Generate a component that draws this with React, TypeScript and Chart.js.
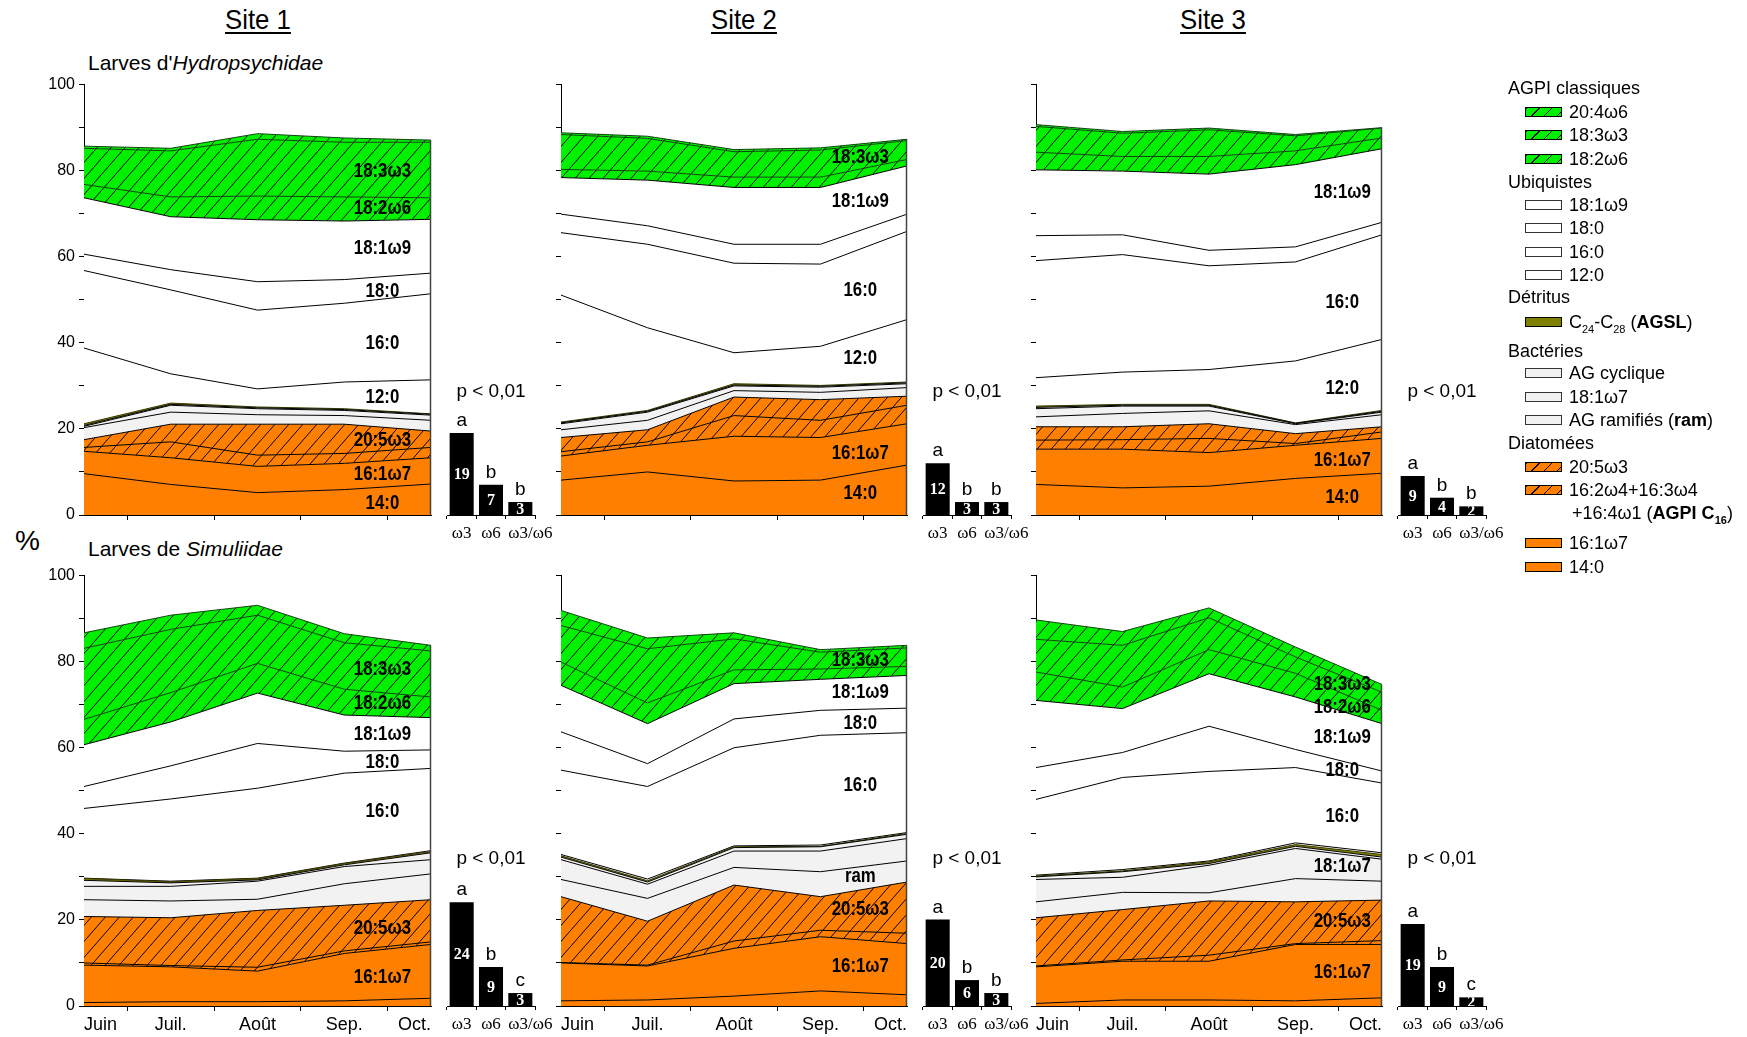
import React, { useEffect, useRef } from 'react';
import { Chart, registerables } from 'chart.js';

Chart.register(...registerables);

// ---------- categories ----------
const months = ['Juin', 'Juil.', 'Août', 'Sep.', 'Oct.'];
const barLabels = ['ω3', 'ω6', 'ω3/ω6'];

// stacking order, bottom -> top
const seriesNames = [
  '14:0', '16:1ω7', 'AGPI C16', '20:5ω3', 'AG ramifiés', '18:1ω7', 'AG cyclique',
  'C24-C28 (AGSL)', '12:0', '16:0', '18:0', '18:1ω9', '18:2ω6', '18:3ω3', '20:4ω6',
];

// ---------- values (%), one row per series in stacking order, columns = months ----------
const hydroSite1 = [
  [9.6, 7.1, 5.2, 5.9, 7.2],
  [5.2, 6.2, 6.1, 6.1, 6.1],
  [0.9, 3.7, 2.6, 2.3, 2.4],
  [1.8, 4.1, 7.2, 6.8, 3.8],
  [2.8, 2.8, 2.2, 2.0, 2.5],
  [0.3, 1.6, 1.4, 1.2, 1.2],
  [0.2, 0.2, 0.2, 0.2, 0.2],
  [0.4, 0.3, 0.2, 0.2, 0.1],
  [17.6, 6.8, 4.2, 6.2, 7.9],
  [18.0, 19.5, 18.3, 18.3, 20.0],
  [3.8, 4.7, 6.6, 5.5, 4.8],
  [13.1, 12.3, 14.4, 13.6, 12.5],
  [3.1, 4.6, 5.5, 5.6, 5.0],
  [8.4, 10.7, 13.2, 12.7, 12.9],
  [0.5, 0.6, 1.3, 1.0, 0.5],
];
const hydroSite2 = [
  [8.1, 10.0, 7.9, 8.1, 11.6],
  [5.6, 6.2, 10.4, 9.9, 9.6],
  [1.0, 0.8, 4.8, 4.0, 4.3],
  [3.3, 2.8, 4.3, 4.8, 2.1],
  [1.8, 2.2, 1.5, 1.7, 2.0],
  [1.4, 1.9, 1.1, 1.2, 0.9],
  [0.2, 0.2, 0.2, 0.2, 0.2],
  [0.2, 0.2, 0.3, 0.2, 0.2],
  [29.5, 19.2, 7.2, 9.1, 14.5],
  [14.5, 19.4, 20.8, 19.1, 20.5],
  [4.3, 4.3, 4.4, 4.6, 4.0],
  [8.5, 10.6, 13.2, 13.2, 11.2],
  [1.9, 2.1, 2.4, 2.4, 1.5],
  [8.1, 7.6, 5.9, 6.3, 4.4],
  [0.4, 0.5, 0.5, 0.5, 0.3],
];
const hydroSite3 = [
  [7.1, 6.3, 6.7, 8.5, 9.7],
  [8.2, 9.0, 7.8, 7.7, 8.1],
  [2.1, 2.2, 3.3, 0.4, 1.5],
  [3.1, 3.0, 3.4, 2.3, 1.2],
  [2.3, 3.1, 3.0, 2.1, 2.8],
  [1.9, 1.7, 1.1, 0.2, 0.6],
  [0.3, 0.2, 0.2, 0.1, 0.2],
  [0.3, 0.2, 0.2, 0.1, 0.2],
  [6.6, 7.5, 8.1, 14.4, 16.5],
  [27.2, 27.3, 24.1, 23.0, 24.3],
  [5.8, 4.6, 3.6, 3.5, 2.9],
  [15.3, 14.8, 17.7, 19.1, 17.1],
  [4.1, 3.4, 4.1, 3.2, 2.5],
  [6.0, 5.4, 6.2, 3.5, 2.3],
  [0.4, 0.4, 0.4, 0.3, 0.1],
];
const simSite1 = [
  [0.8, 1.0, 1.0, 1.2, 1.8],
  [8.7, 8.1, 7.1, 11.0, 12.5],
  [0.5, 0.3, 0.9, 0.6, 0.6],
  [10.8, 11.1, 13.2, 10.6, 9.8],
  [3.9, 3.9, 2.6, 5.0, 6.0],
  [3.1, 3.4, 4.2, 4.0, 3.3],
  [1.4, 0.8, 0.3, 0.4, 1.6],
  [0.4, 0.3, 0.3, 0.3, 0.3],
  [0.1, 0.1, 0.1, 0.1, 0.2],
  [16.2, 19.1, 20.9, 20.9, 19.1],
  [5.1, 7.7, 10.4, 5.1, 4.3],
  [9.7, 10.2, 11.7, 8.4, 7.5],
  [5.9, 6.8, 6.9, 6.0, 4.8],
  [16.5, 14.7, 11.2, 10.8, 10.7],
  [3.6, 3.3, 2.3, 2.1, 1.3],
];
const simSite2 = [
  [1.2, 1.4, 2.3, 3.5, 2.6],
  [8.8, 7.9, 11.1, 12.6, 11.9],
  [0.1, 0.2, 1.7, 1.5, 2.4],
  [15.3, 10.2, 13.0, 7.8, 11.9],
  [4.0, 5.3, 4.1, 5.8, 4.9],
  [4.6, 3.3, 3.8, 4.8, 5.2],
  [0.6, 0.5, 0.8, 1.0, 1.0],
  [0.3, 0.3, 0.2, 0.1, 0.2],
  [0.3, 0.4, 0.2, 0.3, 0.2],
  [19.6, 21.5, 22.8, 25.5, 23.2],
  [8.9, 5.3, 6.7, 5.8, 5.7],
  [10.8, 9.3, 8.2, 7.2, 7.6],
  [5.4, 4.8, 3.2, 2.4, 2.1],
  [8.5, 12.6, 7.2, 3.9, 4.3],
  [3.5, 2.5, 1.4, 0.6, 0.6],
];
const simSite3 = [
  [0.6, 1.4, 1.4, 1.2, 1.9],
  [8.5, 9.0, 9.0, 13.1, 12.4],
  [0.2, 0.3, 1.4, 0.2, 0.9],
  [11.2, 11.7, 12.6, 9.7, 9.4],
  [3.7, 4.0, 1.9, 5.4, 4.4],
  [5.2, 3.5, 6.4, 7.0, 5.1],
  [0.6, 1.3, 0.4, 0.5, 0.5],
  [0.2, 0.2, 0.4, 0.4, 0.6],
  [0.2, 0.3, 0.2, 0.4, 0.4],
  [17.6, 21.4, 20.8, 17.5, 16.2],
  [7.4, 5.8, 10.5, 4.2, 2.8],
  [15.6, 10.2, 12.2, 12.2, 11.0],
  [6.6, 5.0, 5.6, 5.5, 3.1],
  [7.6, 9.7, 7.4, 3.8, 4.2],
  [4.5, 3.2, 2.3, 2.3, 1.8],
];

// in-chart band labels: [text, value level]
const hydroSite1Labels: [string, number][] = [['18:3ω3', 79.9], ['18:2ω6', 71.3], ['18:1ω9', 62.0], ['18:0', 52.1], ['16:0', 39.8], ['12:0', 27.3], ['20:5ω3', 17.4], ['16:1ω7', 9.5], ['14:0', 2.8]];
const hydroSite2Labels: [string, number][] = [['18:3ω3', 83.1], ['18:1ω9', 72.8], ['16:0', 52.3], ['12:0', 36.4], ['16:1ω7', 14.3], ['14:0', 5.1]];
const hydroSite3Labels: [string, number][] = [['18:1ω9', 75.0], ['16:0', 49.5], ['12:0', 29.4], ['16:1ω7', 12.7], ['14:0', 4.2]];
const simSite1Labels: [string, number][] = [['18:3ω3', 78.2], ['18:2ω6', 70.4], ['18:1ω9', 63.1], ['18:0', 56.7], ['16:0', 45.2], ['20:5ω3', 18.1], ['16:1ω7', 6.8]];
const simSite2Labels: [string, number][] = [['18:3ω3', 80.3], ['18:1ω9', 72.8], ['18:0', 65.8], ['16:0', 51.2], ['ram', 30.1], ['20:5ω3', 22.6], ['16:1ω7', 9.3]];
const simSite3Labels: [string, number][] = [['18:3ω3', 74.7], ['18:2ω6', 69.5], ['18:1ω9', 62.5], ['18:0', 54.8], ['16:0', 44.0], ['18:1ω7', 32.5], ['20:5ω3', 19.7], ['16:1ω7', 7.9]];

// ω3 / ω6 / ω3-ω6 bars
const hydroSite1Bars = [19, 7, 3];
const hydroSite2Bars = [12, 3, 3];
const hydroSite3Bars = [9, 4, 2];
const simSite1Bars = [24, 9, 3];
const simSite2Bars = [20, 6, 3];
const simSite3Bars = [19, 9, 2];
const hydroSite1Letters = ['a', 'b', 'b'];
const hydroSite2Letters = ['a', 'b', 'b'];
const hydroSite3Letters = ['a', 'b', 'b'];
const simSite1Letters = ['a', 'b', 'c'];
const simSite2Letters = ['a', 'b', 'b'];
const simSite3Letters = ['a', 'b', 'c'];
const pText = 'p < 0,01';

// ---------- styles ----------
const ORANGE = '#ff8000';
const GREEN = '#00f000';
const BACT = '#f2f2f2';
const OLIVE = '#808000';
const seriesKinds = ['orange', 'orange', 'orangeHatch', 'orangeHatch', 'bact', 'bact', 'bact', 'olive', 'white', 'white', 'white', 'white', 'greenHatch', 'greenHatch', 'greenHatch'];

const SANS = '"Liberation Sans", Arial, sans-serif';
const SERIF = '"Liberation Serif", "Times New Roman", serif';

const colLeft = [84, 561, 1036];
const colWidth = [347, 346, 346];
const rowTop = [83, 574];
const PLOT_H = 432;
const labelXIndex = [3.44, 3.46, 3.54];

function makeHatch(color: string): CanvasPattern | string {
  const c = document.createElement('canvas');
  c.width = 14;
  c.height = 16;
  const g = c.getContext('2d');
  if (!g) return color;
  g.fillStyle = color;
  g.fillRect(0, 0, 14, 16);
  g.strokeStyle = '#000';
  g.lineWidth = 1;
  g.beginPath();
  g.moveTo(-14, 32);
  g.lineTo(28, -16);
  g.stroke();
  return g.createPattern(c, 'repeat') || color;
}

type AreaProps = {
  data: number[][];
  labels: [string, number][];
  col: number;
  row: number;
};

function AreaPanel({ data, labels, col, row }: AreaProps) {
  const ref = useRef<HTMLCanvasElement>(null);
  const left = colLeft[col];
  const width = colWidth[col];
  const top = rowTop[row];
  const cw = width + 60 + 12;
  const ch = PLOT_H + 12 + 40;
  const showY = col === 0;
  const showX = row === 1;

  useEffect(() => {
    if (!ref.current) return;
    const orangeHatch = makeHatch(ORANGE);
    const greenHatch = makeHatch(GREEN);
    const fillFor = (k: string): any => {
      switch (k) {
        case 'orange': return ORANGE;
        case 'orangeHatch': return orangeHatch;
        case 'greenHatch': return greenHatch;
        case 'bact': return BACT;
        case 'olive': return OLIVE;
        default: return '#ffffff';
      }
    };
    const borderFor = (k: string) => (k === 'greenHatch' ? '#114411' : k === 'olive' ? '#3a3a00' : '#000000');

    const decoPlugin = {
      id: 'areaDeco',
      afterDatasetsDraw(chart: any) {
        const { ctx, chartArea, scales } = chart;
        const last = data.reduce((s, arr) => s + arr[arr.length - 1], 0);
        ctx.save();
        ctx.strokeStyle = '#444';
        ctx.lineWidth = 1.5;
        ctx.beginPath();
        ctx.moveTo(chartArea.right - 0.5, scales.y.getPixelForValue(last));
        ctx.lineTo(chartArea.right - 0.5, chartArea.bottom);
        ctx.stroke();
        ctx.fillStyle = '#000';
        ctx.font = `bold 21px ${SANS}`;
        ctx.textAlign = 'center';
        ctx.textBaseline = 'middle';
        const xp = scales.x.getPixelForValue(labelXIndex[col]);
        for (const [t, v] of labels) {
          ctx.save();
          ctx.translate(xp, scales.y.getPixelForValue(v));
          ctx.scale(0.8, 1);
          ctx.fillText(t, 0, 0);
          ctx.restore();
        }
        ctx.restore();
      },
    };

    const chart = new Chart(ref.current, {
      type: 'line',
      data: {
        labels: months,
        datasets: data.map((vals, i) => ({
          label: seriesNames[i],
          data: vals,
          fill: i === 0 ? 'origin' : '-1',
          backgroundColor: fillFor(seriesKinds[i]),
          borderColor: borderFor(seriesKinds[i]),
          borderWidth: 1,
          pointRadius: 0,
          tension: 0,
        })),
      },
      options: {
        responsive: false,
        maintainAspectRatio: false,
        animation: false,
        devicePixelRatio: 1,
        events: [],
        layout: { padding: { top: 12, right: 12, left: 0, bottom: 0 } },
        plugins: { legend: { display: false }, tooltip: { enabled: false } },
        scales: {
          x: {
            type: 'category',
            offset: false,
            z: 1,
            ticks: {
              display: showX,
              align: 'inner',
              padding: 3,
              color: '#000',
              font: { family: SANS, size: 18 },
              maxRotation: 0,
              autoSkip: false,
            },
            grid: { offset: true, drawOnChartArea: false, tickLength: 5, color: '#000' },
            border: { color: '#000', width: 1 },
            afterFit: (s: any) => { s.height = 40; },
          },
          y: {
            stacked: true,
            min: 0,
            max: 100,
            z: 1,
            ticks: {
              stepSize: 10,
              autoSkip: false,
              padding: 4,
              color: '#000',
              font: { family: SANS, size: 16 },
              callback: (v: any) => (showY && Number(v) % 20 === 0 ? String(v) : ''),
            },
            grid: { drawOnChartArea: false, tickLength: 5, color: '#000' },
            border: { color: '#000', width: 1 },
            afterFit: (s: any) => { s.width = 60; },
          },
        },
      },
      plugins: [decoPlugin],
    } as any);
    return () => chart.destroy();
  }, []);

  return (
    <canvas
      ref={ref}
      width={cw}
      height={ch}
      style={{ position: 'absolute', left: left - 60, top: top - 12, width: cw, height: ch }}
    />
  );
}

type BarProps = { values: number[]; letters: string[]; col: number; row: number; pLevel: number };

function BarPanel({ values, letters, col, row, pLevel }: BarProps) {
  const ref = useRef<HTMLCanvasElement>(null);
  const right = colLeft[col] + colWidth[col];
  const top = rowTop[row];
  const cw = 140;
  const ch = PLOT_H + 12 + 40;

  useEffect(() => {
    if (!ref.current) return;
    const deco = {
      id: 'barDeco',
      afterDatasetsDraw(chart: any) {
        const { ctx, chartArea, scales } = chart;
        const meta = chart.getDatasetMeta(0);
        ctx.save();
        meta.data.forEach((bar: any, i: number) => {
          const p = bar.getProps(['x', 'y', 'base', 'width'], true);
          ctx.save();
          ctx.beginPath();
          ctx.rect(p.x - p.width / 2, p.y, p.width, p.base - p.y);
          ctx.clip();
          ctx.fillStyle = '#fff';
          ctx.font = `bold 16px ${SERIF}`;
          ctx.textAlign = 'center';
          ctx.textBaseline = 'middle';
          ctx.fillText(String(values[i]), p.x, (p.y + p.base) / 2 + 1);
          ctx.restore();
          ctx.fillStyle = '#000';
          ctx.font = `19px ${SANS}`;
          ctx.textAlign = 'center';
          ctx.textBaseline = 'alphabetic';
          ctx.fillText(letters[i], p.x, p.y - 7);
          ctx.font = `17px ${SERIF}`;
          ctx.textBaseline = 'top';
          if (i === barLabels.length - 1) {
            ctx.textAlign = 'left';
            ctx.fillText(barLabels[i], p.x - p.width / 2, chartArea.bottom + 10);
          } else {
            ctx.textAlign = 'center';
            ctx.fillText(barLabels[i], p.x, chartArea.bottom + 10);
          }
        });
        ctx.fillStyle = '#000';
        ctx.font = `19px ${SANS}`;
        ctx.textAlign = 'center';
        ctx.textBaseline = 'middle';
        ctx.fillText(pText, (chartArea.left + chartArea.right) / 2, scales.y.getPixelForValue(pLevel));
        ctx.restore();
      },
    };
    const chart = new Chart(ref.current, {
      type: 'bar',
      data: {
        labels: barLabels,
        datasets: [{ data: values, backgroundColor: '#000', borderWidth: 0, barPercentage: 0.82, categoryPercentage: 1 }],
      },
      options: {
        responsive: false,
        maintainAspectRatio: false,
        animation: false,
        devicePixelRatio: 1,
        events: [],
        layout: { padding: { top: 12, right: 46, left: 6, bottom: 0 } },
        plugins: { legend: { display: false }, tooltip: { enabled: false } },
        scales: {
          x: {
            type: 'category',
            offset: true,
            z: 1,
            ticks: { display: false },
            grid: { offset: true, drawOnChartArea: false, tickLength: 4, color: '#000' },
            border: { color: '#000', width: 1 },
            afterFit: (s: any) => { s.height = 40; },
          },
          y: { display: false, min: 0, max: 100 },
        },
      },
      plugins: [deco],
    } as any);
    return () => chart.destroy();
  }, []);

  return (
    <canvas
      ref={ref}
      width={cw}
      height={ch}
      style={{ position: 'absolute', left: right + 10, top: top - 12, width: cw, height: ch }}
    />
  );
}

const greenSw = `repeating-linear-gradient(135deg, #000 0px, #000 1px, ${GREEN} 1px, ${GREEN} 9px)`;
const orangeSw = `repeating-linear-gradient(135deg, #000 0px, #000 1px, ${ORANGE} 1px, ${ORANGE} 9px)`;

type LegendRow = { y: number; header?: boolean; sw?: string; swBorder?: string; text: React.ReactNode; indent?: number };

const legendRows: LegendRow[] = [
  { y: 88, header: true, text: 'AGPI classiques' },
  { y: 112, sw: greenSw, text: '20:4ω6' },
  { y: 135, sw: greenSw, text: '18:3ω3' },
  { y: 159, sw: greenSw, text: '18:2ω6' },
  { y: 182, header: true, text: 'Ubiquistes' },
  { y: 205, sw: '#fff', swBorder: '#333', text: '18:1ω9' },
  { y: 228, sw: '#fff', swBorder: '#333', text: '18:0' },
  { y: 252, sw: '#fff', swBorder: '#333', text: '16:0' },
  { y: 275, sw: '#fff', swBorder: '#333', text: '12:0' },
  { y: 297, header: true, text: 'Détritus' },
  { y: 322, sw: OLIVE, text: <span>C<sub style={{ fontSize: 11 }}>24</sub>-C<sub style={{ fontSize: 11 }}>28</sub> (<b>AGSL</b>)</span> },
  { y: 351, header: true, text: 'Bactéries' },
  { y: 373, sw: BACT, swBorder: '#333', text: 'AG cyclique' },
  { y: 397, sw: BACT, swBorder: '#333', text: '18:1ω7' },
  { y: 420, sw: BACT, swBorder: '#333', text: <span>AG ramifiés (<b>ram</b>)</span> },
  { y: 443, header: true, text: 'Diatomées' },
  { y: 467, sw: orangeSw, text: '20:5ω3' },
  { y: 490, sw: orangeSw, text: '16:2ω4+16:3ω4' },
  { y: 513, text: <span>+16:4ω1 (<b>AGPI C<sub style={{ fontSize: 11 }}>16</sub></b>)</span>, indent: 3 },
  { y: 543, sw: ORANGE, text: '16:1ω7' },
  { y: 567, sw: ORANGE, text: '14:0' },
];

function Legend() {
  return (
    <>
      {legendRows.map((r, i) => (
        <React.Fragment key={i}>
          {r.sw && (
            <div
              style={{
                position: 'absolute',
                left: 1525,
                top: r.y - 5,
                width: 35,
                height: 8,
                background: r.sw,
                border: `1px solid ${r.swBorder || '#000'}`,
              }}
            />
          )}
          <div
            style={{
              position: 'absolute',
              left: r.header ? 1508 : 1569 + (r.indent || 0),
              top: r.y - 11,
              height: 22,
              lineHeight: '22px',
              fontSize: 18,
              whiteSpace: 'nowrap',
              color: '#000',
            }}
          >
            {r.text}
          </div>
        </React.Fragment>
      ))}
    </>
  );
}

const siteTitles = ['Site 1', 'Site 2', 'Site 3'];
const siteTitleX = [258, 744, 1213];

export default function App() {
  return (
    <div
      style={{
        position: 'absolute',
        left: 0,
        top: 0,
        width: 1747,
        height: 1037,
        background: '#fff',
        fontFamily: SANS,
        overflow: 'hidden',
      }}
    >
      {siteTitles.map((t, i) => (
        <div
          key={t}
          style={{
            position: 'absolute',
            left: siteTitleX[i] - 60,
            width: 120,
            top: 4,
            textAlign: 'center',
            fontSize: 28,
            lineHeight: '32px',
            textDecoration: 'underline',
            textDecorationThickness: '2px',
            textUnderlineOffset: '3px',
            transform: 'scaleX(0.92)',
          }}
        >
          {t}
        </div>
      ))}
      <div style={{ position: 'absolute', left: 88, top: 51, fontSize: 21, lineHeight: '24px', whiteSpace: 'nowrap' }}>
        Larves d'<i>Hydropsychidae</i>
      </div>
      <div style={{ position: 'absolute', left: 88, top: 537, fontSize: 21, lineHeight: '24px', whiteSpace: 'nowrap' }}>
        Larves de <i>Simuliidae</i>
      </div>
      <div style={{ position: 'absolute', left: 15, top: 523, fontSize: 28, lineHeight: '36px' }}>%</div>

      <AreaPanel data={hydroSite1} labels={hydroSite1Labels} col={0} row={0} />
      <AreaPanel data={hydroSite2} labels={hydroSite2Labels} col={1} row={0} />
      <AreaPanel data={hydroSite3} labels={hydroSite3Labels} col={2} row={0} />
      <AreaPanel data={simSite1} labels={simSite1Labels} col={0} row={1} />
      <AreaPanel data={simSite2} labels={simSite2Labels} col={1} row={1} />
      <AreaPanel data={simSite3} labels={simSite3Labels} col={2} row={1} />

      <BarPanel values={hydroSite1Bars} letters={hydroSite1Letters} col={0} row={0} pLevel={28.5} />
      <BarPanel values={hydroSite2Bars} letters={hydroSite2Letters} col={1} row={0} pLevel={28.5} />
      <BarPanel values={hydroSite3Bars} letters={hydroSite3Letters} col={2} row={0} pLevel={28.5} />
      <BarPanel values={simSite1Bars} letters={simSite1Letters} col={0} row={1} pLevel={34} />
      <BarPanel values={simSite2Bars} letters={simSite2Letters} col={1} row={1} pLevel={34} />
      <BarPanel values={simSite3Bars} letters={simSite3Letters} col={2} row={1} pLevel={34} />

      <Legend />
    </div>
  );
}
